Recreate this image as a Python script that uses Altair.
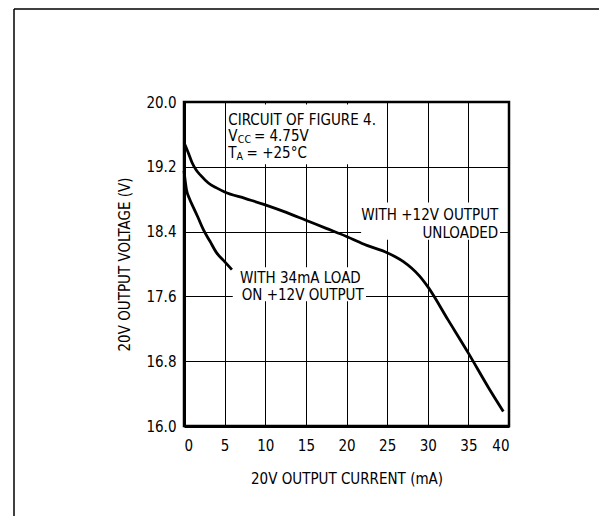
import altair as alt
import pandas as pd

FONT = "DejaVu Sans Condensed, Liberation Sans Narrow, sans-serif"

# ---- data ----
x_ticks = [0, 5, 10, 15, 20, 25, 30, 35, 40]
y_ticks = [16.0, 16.8, 17.6, 18.4, 19.2, 20.0]

unloaded_ma = [0, 0.5, 1, 1.5, 2, 3, 4, 5, 7.5, 10, 12.5, 15, 17.5, 20, 22.5,
               25, 26, 27, 28, 29, 30, 32.5, 35, 37.5, 39.3]
unloaded_v = [19.50, 19.38, 19.25, 19.16, 19.10, 19.00, 18.94, 18.89, 18.81, 18.73,
              18.64, 18.54, 18.44, 18.34, 18.23, 18.14, 18.09, 18.03, 17.95, 17.85,
              17.72, 17.31, 16.90, 16.47, 16.18]

loaded_ma = [0, 0.3, 0.7, 1.15, 1.7, 2.4, 3.2, 4.0, 5.0, 5.9]
loaded_v = [19.15, 18.92, 18.80, 18.70, 18.58, 18.42, 18.28, 18.14, 18.03, 17.93]

# annotation text pieces (text, x in mA, baseline in V, font size, align)
note_text = ["CIRCUIT OF FIGURE 4.", "V", "CC", "= 4.75V", "T", "A", "= +25°C",
             "WITH +12V OUTPUT", "UNLOADED", "WITH 34mA LOAD", "ON +12V OUTPUT"]
note_x = [5.45, 5.45, 6.62, 8.60, 5.45, 6.45, 7.70, 38.68, 38.68, 6.89, 7.10]
note_y = [19.716, 19.515, 19.500, 19.515, 19.305, 19.290, 19.305,
          18.543, 18.317, 17.762, 17.556]
note_size = [15, 15, 10.5, 15, 15, 10.5, 15, 15, 15, 15, 15]
note_align = ["left"] * 7 + ["right", "right", "left", "left"]

# white areas behind the annotation blocks (in data units)
mask_x1 = [5.25, 21.8, 6.0]
mask_x2 = [24.6, 38.9, 22.4]
mask_y1 = [19.23, 18.30, 17.54]
mask_y2 = [19.97, 18.76, 17.96]

# ---- tables ----
curves = pd.DataFrame({
    "ma": unloaded_ma + loaded_ma,
    "v": unloaded_v + loaded_v,
    "series": ["unloaded"] * len(unloaded_ma) + ["loaded"] * len(loaded_ma),
})
notes = pd.DataFrame({"text": note_text, "x": note_x, "y": note_y,
                      "size": note_size, "align": note_align})
masks = pd.DataFrame({"x1": mask_x1, "x2": mask_x2, "y1": mask_y1, "y2": mask_y2})

xs = alt.Scale(domain=[0, 40], nice=False, zero=False)
ys = alt.Scale(domain=[16, 20], nice=False, zero=False)
XT = "20V OUTPUT CURRENT (mA)"
YT = "20V OUTPUT VOLTAGE (V)"
ax_x = alt.Axis(values=x_ticks, format="d", labelPadding=12, titlePadding=18)
ax_y = alt.Axis(values=y_ticks, format=".1f", labelPadding=8, titlePadding=13)


def X(field):
    return alt.X(field, type="quantitative", scale=xs, axis=ax_x, title=XT)


def Y(field):
    return alt.Y(field, type="quantitative", scale=ys, axis=ax_y, title=YT)


mask_layer = alt.Chart(masks).mark_rect(color="white", opacity=1).encode(
    x=X("x1"), x2="x2", y=Y("y1"), y2="y2"
)

line_layer = alt.Chart(curves).mark_line(
    color="black", strokeWidth=2.8, interpolate="monotone"
).encode(x=X("ma"), y=Y("v"), detail="series:N")

text_left = alt.Chart(notes).transform_filter(alt.datum.align == "left").mark_text(
    align="left", baseline="alphabetic", font=FONT, color="black"
).encode(x=X("x"), y=Y("y"), text="text:N", size=alt.Size("size:Q", scale=None, legend=None))

text_right = alt.Chart(notes).transform_filter(alt.datum.align == "right").mark_text(
    align="right", baseline="alphabetic", font=FONT, color="black"
).encode(x=X("x"), y=Y("y"), text="text:N", size=alt.Size("size:Q", scale=None, legend=None))

dummy = pd.DataFrame({"a": [0]})
frame_left = alt.Chart(dummy).mark_rule(color="black", strokeWidth=1.5).encode(
    x=alt.value(-170), y=alt.value(-93), y2=alt.value(440)
)
frame_top = alt.Chart(dummy).mark_rule(color="black", strokeWidth=1.5).encode(
    x=alt.value(-170), x2=alt.value(500), y=alt.value(-93)
)

chart = alt.layer(mask_layer, line_layer, text_left, text_right, frame_left, frame_top).properties(
    width=325, height=324,
    autosize=alt.AutoSizeParams(type="none"),
    padding={"left": 176, "top": 94, "right": 90, "bottom": 90},
    background="white",
).configure_view(
    stroke="black", strokeWidth=2.5
).configure_axis(
    grid=True, gridColor="black", gridWidth=1, gridOpacity=1,
    domain=True, domainColor="black", domainWidth=3,
    ticks=False, tickSize=0,
    labelFont=FONT, labelFontSize=15, labelColor="black",
    titleFont=FONT, titleFontSize=15, titleFontWeight="normal", titleColor="black",
)

chart.save("out.html", embed_options={"renderer": "svg", "actions": False})
